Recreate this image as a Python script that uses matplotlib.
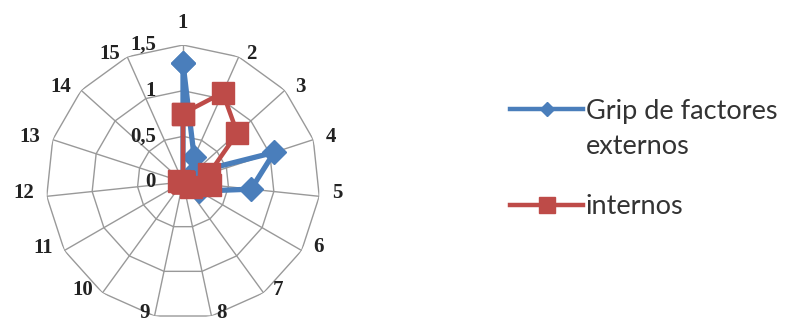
import numpy as np
import matplotlib
matplotlib.use('Agg')
import matplotlib.pyplot as plt
from matplotlib.lines import Line2D

# 15 factors around the radar, two series
categories = [str(i) for i in range(1, 16)]
externos = [1.3, 0.3, 0.15, 1.05, 0.75, 0.2, 0, 0, 0, 0, 0, 0, 0, 0, 0]
internos = [0.75, 1.07, 0.8, 0.3, 0.3, 0.1, 0, 0, 0, 0, 0, 0, 0.05, 0, 0]
r_ticks = [0, 0.5, 1, 1.5]
r_tick_labels = ['0', '0,5', '1', '1,5']
series_names = ['Grip de factores', 'externos', 'internos']

BLUE = '#4A7EBB'
RED = '#BE4B48'
GRID = '#999999'
DPI = 100
W, H = 798, 324

fig = plt.figure(figsize=(W / DPI, H / DPI), dpi=DPI)
cx, cy, rad = 183, 182, 137
ax = fig.add_axes([(cx - rad) / W, (H - cy - rad) / H, 2 * rad / W, 2 * rad / H],
                  projection='polar')
ax.set_theta_zero_location('N')
ax.set_theta_direction(-1)
ax.set_ylim(0, r_ticks[-1])
ax.grid(False)
ax.set_xticks([])
ax.set_yticks([])
ax.spines['polar'].set_visible(False)
ax.patch.set_alpha(0)

angles = np.linspace(0, 2 * np.pi, len(categories), endpoint=False)
closed = np.append(angles, angles[0])

# polygon rings and spokes
for r in r_ticks[1:]:
    ax.plot(closed, [r] * len(closed), color=GRID, lw=1.0, zorder=1)
for a in angles:
    ax.plot([a, a], [0, r_ticks[-1]], color=GRID, lw=1.0, zorder=1)

ax.plot(closed, externos + externos[:1], color=BLUE, lw=3.8, marker='D', ms=12,
        zorder=3, clip_on=False)
ax.plot(closed, internos + internos[:1], color=RED, lw=3.2, marker='s', ms=16,
        zorder=4, clip_on=False)

lab_font = dict(family='Liberation Serif', fontsize=15, fontweight='bold', color='#222222')
px = 0.72  # points per pixel at 100 dpi
for a, name in zip(angles, categories):
    s = np.sin(a)
    if abs(s) < 1e-6:
        ax.annotate(name, (a, r_ticks[-1]), xytext=(0, 22 * px), textcoords='offset points',
                    ha='center', va='center', **lab_font)
    else:
        gap = 3 + 10 * abs(s)
        ax.annotate(name, (a, r_ticks[-1]), xytext=(np.sign(s) * gap * px, 3 * px),
                    textcoords='offset points', ha='left' if s > 0 else 'right',
                    va='center', **lab_font)

for r, t in zip(r_ticks, r_tick_labels):
    ax.annotate(t, (0, r), xytext=(-27 * px, 0), textcoords='offset points',
                ha='right', va='center', **lab_font)

# legend: two entries, the first label wraps onto a second line
leg_font = dict(family='Lato', size=19.5)
h_blue = Line2D([], [], color=BLUE, lw=3.2, marker='D', ms=7)
h_red = Line2D([], [], color=RED, lw=3.2, marker='s', ms=11)
leg_kw = dict(loc='center left', frameon=False, prop=leg_font, handlelength=2.7,
              handletextpad=0.1, borderpad=0, borderaxespad=0, labelcolor='#333333')
leg1 = fig.legend([h_blue], [series_names[0]], bbox_to_anchor=(510 / W, 1 - 111 / H), **leg_kw)
leg2 = fig.legend([h_red], [series_names[2]], bbox_to_anchor=(510 / W, 1 - 207 / H), **leg_kw)
fig.canvas.draw()
x0 = leg1.get_texts()[0].get_window_extent().x0
fig.text(x0 / W, 1 - 146 / H, series_names[1], ha='left', va='center',
         family='Lato', size=19.5, color='#333333')

fig.savefig('out.png', dpi=DPI)
